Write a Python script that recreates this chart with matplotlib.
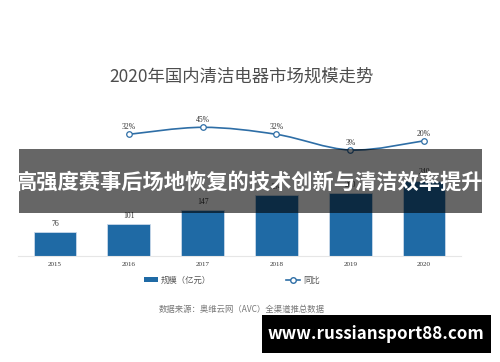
import matplotlib
matplotlib.use("Agg")
import matplotlib.pyplot as plt
from matplotlib.path import Path
from matplotlib.patches import PathPatch, Rectangle, Patch
from matplotlib.lines import Line2D
import numpy as np

plt.rcParams['font.family'] = ['Noto Sans CJK SC', 'DejaVu Sans']

years = ['2015', '2016', '2017', '2018', '2019', '2020']
scale = [76, 101, 147, 194, 200, 240]
growth_years = ['2016', '2017', '2018', '2019', '2020']
growth = [32, 45, 32, 3, 20]

title = '2020年国内清洁电器市场规模走势'
overlay_text = '高强度赛事后场地恢复的技术创新与清洁效率提升'
source = '数据来源：奥维云网（AVC）全渠道推总数据'
watermark = 'www.russiansport88.com'

BLUE = '#1f6aa5'
LINE = '#2e6ea6'

W, H = 500, 362
fig = plt.figure(figsize=(W / 100, H / 100), dpi=100)

ax_l, ax_r = 18 / W, 461 / W
ax_b = (H - 256) / H
ax_h = 156.5 / H
ax = fig.add_axes([ax_l, ax_b, ax_r - ax_l, ax_h])
x = np.arange(len(years))
ax.bar(x, scale, width=0.58, color=BLUE, edgecolor='#c9d9ea', linewidth=0.6, zorder=2)
ax.set_xlim(-0.5, 5.5)
ax.set_ylim(0, 500)
for xi, v in zip(x, scale):
    ax.text(xi, v + 14, str(v), ha='center', va='bottom', fontsize=5.5,
            family=['Liberation Serif', 'DejaVu Serif'], color='#333333')
ax.set_xticks(x)
ax.set_xticklabels(years, fontsize=5, family=['Liberation Serif'], color='#333333')
ax.tick_params(axis='x', length=0, pad=4)
ax.set_yticks([])
for s in ['top', 'right', 'left']:
    ax.spines[s].set_visible(False)
ax.spines['bottom'].set_color('#e6e6e6')
ax.spines['bottom'].set_linewidth(0.8)
ax.patch.set_alpha(0)

ax2 = ax.twinx()
ax2.set_ylim(-193.3, 96.5)
ax2.set_yticks([])
for s in ax2.spines.values():
    s.set_visible(False)
gx = np.array([years.index(y) for y in growth_years], dtype=float)
gy = np.array(growth, dtype=float)
pts = np.column_stack([gx, gy])
ext = np.vstack([pts[0], pts, pts[-1]])
verts = [tuple(pts[0])]
codes = [Path.MOVETO]
for i in range(1, len(ext) - 2):
    p0, p1, p2, p3 = ext[i - 1], ext[i], ext[i + 1], ext[i + 2]
    c1 = p1 + (p2 - p0) / 6
    c2 = p2 - (p3 - p1) / 6
    verts += [tuple(c1), tuple(c2), tuple(p2)]
    codes += [Path.CURVE4] * 3
ax2.add_patch(PathPatch(Path(verts, codes), facecolor='none', edgecolor=LINE, lw=1.2, zorder=3))
ax2.plot(gx, gy, ls='none', marker='o', ms=4, mfc='white', mec=LINE, mew=0.9, zorder=4)
for xi, v in zip(gx, gy):
    ax2.text(xi, v + 6, f'{int(v)}%', ha='center', va='bottom', fontsize=5.5,
             family=['Liberation Serif'], color='#333333')

fig.text(241 / W, 1 - 77 / H, title, ha='center', va='center', fontsize=12.5,
         color='#4d4d4d')

handles = [Patch(facecolor=BLUE, edgecolor='none'),
           Line2D([0], [0], color=LINE, lw=1.2, marker='o', ms=4, mfc='white', mec=LINE)]
fig.legend(handles, ['规模（亿元）', '同比'], loc='center', bbox_to_anchor=(232 / W, 1 - 280 / H),
           ncol=2, frameon=False, fontsize=6, handlelength=1.6, handleheight=0.6,
           columnspacing=9, handletextpad=0.4, labelcolor='#555555')

fig.text(242 / W, 1 - 309 / H, source, ha='center', va='center', fontsize=6, color='#777777')

fig.patches.append(Rectangle((19 / W, 1 - 213 / H), (482 - 19) / W, 64 / H,
                             transform=fig.transFigure, facecolor='black', alpha=0.6,
                             edgecolor='none', zorder=5))
fig.text(250 / W, 1 - 182 / H, overlay_text, ha='center', va='center', fontsize=15.3,
         color='white', fontweight='bold', zorder=6)

fig.patches.append(Rectangle((262 / W, 1 - 353 / H), (491 - 262) / W, 38 / H,
                             transform=fig.transFigure, facecolor='black',
                             edgecolor='none', zorder=5))
fig.text(376 / W, 1 - 334 / H, watermark, ha='center', va='center', fontsize=12.2,
         color='white', fontweight='bold', zorder=6)

fig.savefig('out.png', dpi=100)
